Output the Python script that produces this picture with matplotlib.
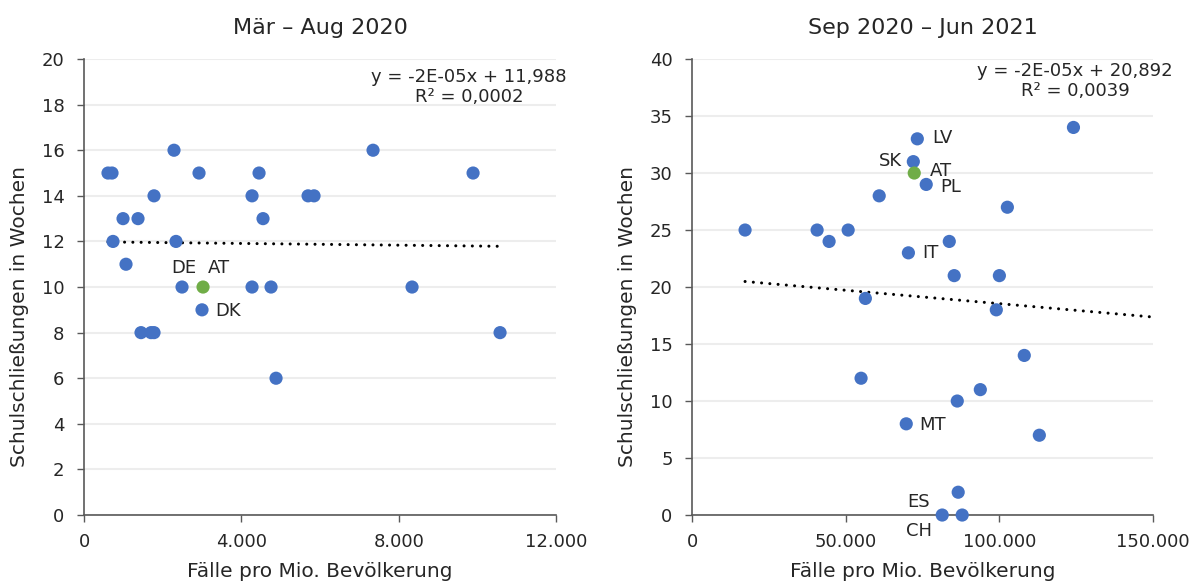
import numpy as np
import matplotlib.pyplot as plt
from matplotlib.ticker import FuncFormatter, MultipleLocator

plt.rcParams['font.family'] = ['DejaVu Sans']

# Daten: Fälle pro Mio. Bevölkerung vs. Schulschließungen in Wochen
left_x = [610, 712, 737, 992, 1068, 1373, 1449, 1704, 1780, 1780, 2288, 2339, 2492,
          2924, 3000, 3026, 4272, 4272, 4450, 4551, 4755, 4882, 5696, 5848, 7348,
          8340, 9891, 10577]
left_y = [15, 15, 12, 13, 11, 13, 8, 8, 8, 14, 16, 12, 10,
          15, 9, 10, 14, 10, 15, 13, 10, 6, 14, 14, 16,
          10, 15, 8]
left_codes = ['', '', '', '', '', '', '', '', '', '', '', '', 'DE',
              '', 'DK', 'AT', '', '', '', '', '', '', '', '', '',
              '', '', '']

right_x = [17260, 40700, 44600, 50800, 60900, 56400, 73300, 72000, 72300, 76200,
           70400, 55000, 108100, 93800, 86300, 69700, 113000, 86600, 81400, 87900,
           124100, 102600, 83700, 85300, 100000, 99000]
right_y = [25, 25, 24, 25, 28, 19, 33, 31, 30, 29,
           23, 12, 14, 11, 10, 8, 7, 2, 0, 0,
           34, 27, 24, 21, 21, 18]
right_codes = ['', '', '', '', '', '', 'LV', 'SK', 'AT', 'PL',
               'IT', '', '', '', '', 'MT', '', 'ES', 'CH', '',
               '', '', '', '', '', '']

# Trendlinien (lineare Regression aus Excel)
left_slope, left_intercept = -1.9e-5, 11.988
right_slope, right_intercept = -2.35e-5, 20.892
left_eq = 'y = -2E-05x + 11,988\nR² = 0,0002'
right_eq = 'y = -2E-05x + 20,892\nR² = 0,0039'

# Label-Versatz in Punkten
offsets = {'DE': (1.5, 13.5), 'DK': (18.5, -0.7),
           'LV': (18, 0.7), 'SK': (-16.5, 0.7), 'AT_r': (19.5, 1.4), 'PL': (17.3, -2.0),
           'IT': (15.8, 0), 'MT': (18.7, -0.7), 'ES': (-28.5, -7), 'CH': (-17, -11.5),
           'AT_l': (11.5, 13.5)}

blue = '#4472C4'
green = '#70AD47'
txt = '#262626'
axc = '#595959'


def thousands(v, pos):
    return f'{v:,.0f}'.replace(',', '.')


fig = plt.figure(figsize=(11.95, 5.88), dpi=100)
ax1 = fig.add_axes([0.0703, 0.1241, 0.395, 0.7755])
ax2 = fig.add_axes([0.5791, 0.1241, 0.3858, 0.7755])

panels = [
    (ax1, left_x, left_y, left_codes, 'Mär – Aug 2020', 12000, 4000, 20, 2,
     left_slope, left_intercept, left_eq, (0.816, 0.939), 'AT_l', False, -0.117),
    (ax2, right_x, right_y, right_codes, 'Sep 2020 – Jun 2021', 150000, 50000, 40, 5,
     right_slope, right_intercept, right_eq, (0.831, 0.952), 'AT_r', True, -0.119),
]

for ax, xs, ys, codes, title, xmax, xstep, ymax, ystep, k, d, eq, eq_pos, at_key, extend, ylab_x in panels:
    colors = [green if c == 'AT' else blue for c in codes]
    ax.scatter(xs, ys, s=90, c=colors, zorder=3, linewidths=0, clip_on=False)

    x0 = min(xs)
    x1 = xmax if extend else max(xs)
    tx = np.array([x0, x1])
    ax.plot(tx, k * tx + d, color='black', lw=2.2, linestyle=(0, (0.01, 2.7)),
            dash_capstyle='round', zorder=2)

    for x, y, c in zip(xs, ys, codes):
        if not c:
            continue
        key = at_key if c == 'AT' else c
        ax.annotate(c, (x, y), xytext=offsets[key], textcoords='offset points',
                    ha='center', va='center', fontsize=13, color=txt, annotation_clip=False)

    ax.text(eq_pos[0], eq_pos[1], eq, transform=ax.transAxes, ha='center', va='center',
            fontsize=13, color=txt, linespacing=1.1)

    ax.set_xlim(0, xmax)
    ax.set_ylim(0, ymax)
    ax.xaxis.set_major_locator(MultipleLocator(xstep))
    ax.yaxis.set_major_locator(MultipleLocator(ystep))
    ax.xaxis.set_major_formatter(FuncFormatter(thousands))
    ax.grid(axis='y', color='#EDEDED', lw=1.5)
    ax.set_axisbelow(True)
    for s in ['top', 'right']:
        ax.spines[s].set_visible(False)
    for s in ['left', 'bottom']:
        ax.spines[s].set_color(axc)
        ax.spines[s].set_linewidth(1.2)
    ax.tick_params(axis='both', colors=axc, labelcolor=txt, labelsize=13, length=5, width=1)
    ax.tick_params(axis='x', pad=8)
    ax.tick_params(axis='y', pad=9)
    ax.set_title(title, fontsize=16, color=txt, pad=18)
    ax.set_xlabel('Fälle pro Mio. Bevölkerung', fontsize=14.5, color=txt, labelpad=8)
    ax.set_ylabel('Schulschließungen in Wochen', fontsize=14.5, color=txt)
    ax.yaxis.set_label_coords(ylab_x, 0.436)

fig.savefig('out.png', dpi=100)
